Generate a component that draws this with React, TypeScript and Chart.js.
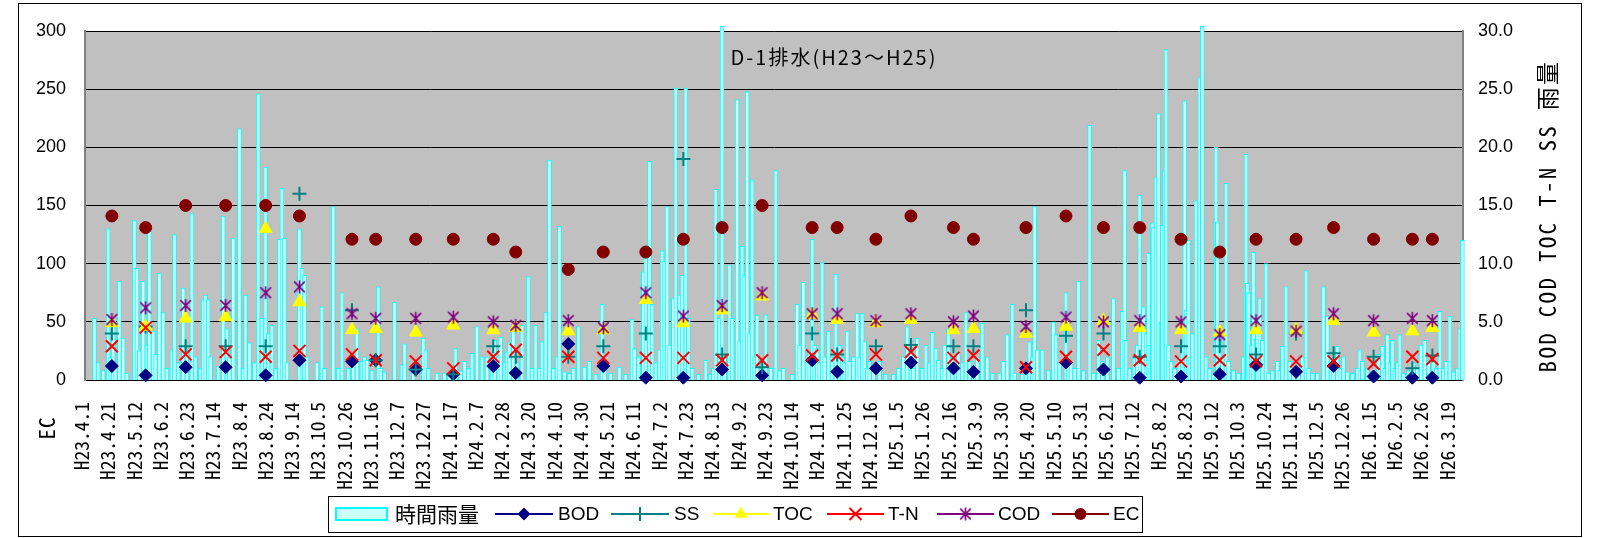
import React, { useEffect, useRef } from 'react';
import { Chart, registerables } from 'chart.js';

Chart.register(...registerables);

// Axis labels, one every TICK_STEP days
const TICK_LABELS = [
  'H23.4.1', 'H23.4.21', 'H23.5.12', 'H23.6.2', 'H23.6.23', 'H23.7.14', 'H23.8.4', 'H23.8.24',
  'H23.9.14', 'H23.10.5', 'H23.10.26', 'H23.11.16', 'H23.12.7', 'H23.12.27', 'H24.1.17', 'H24.2.7',
  'H24.2.28', 'H24.3.20', 'H24.4.10', 'H24.4.30', 'H24.5.21', 'H24.6.11', 'H24.7.2', 'H24.7.23',
  'H24.8.13', 'H24.9.2', 'H24.9.23', 'H24.10.14', 'H24.11.4', 'H24.11.25', 'H24.12.16', 'H25.1.5',
  'H25.1.26', 'H25.2.16', 'H25.3.9', 'H25.3.30', 'H25.4.20', 'H25.5.10', 'H25.5.31', 'H25.6.21',
  'H25.7.12', 'H25.8.2', 'H25.8.23', 'H25.9.12', 'H25.10.3', 'H25.10.24', 'H25.11.14', 'H25.12.5',
  'H25.12.26', 'H26.1.15', 'H26.2.5', 'H26.2.26', 'H26.3.19',
];
const TICK_STEP = 21;
const DAY_COUNT = 1102;

// Hourly rainfall (mm): day index and value of each rainy day
const RAIN_DAY = [
  7, 10, 14, 18, 20, 22, 24, 27, 30, 33, 39, 41, 43, 46, 49, 51, 54, 56, 59, 62, 65, 69, 71, 74, 78, 81, 85, 88,
  92, 94, 96, 98, 100, 106, 110, 113, 115, 118, 123, 126, 128, 131, 135, 138, 141, 144, 146, 149, 152, 155, 157,
  159, 161, 171, 173, 175, 177, 185, 189, 191, 198, 202, 205, 210, 214, 217,
  221, 223, 225, 229, 234, 236, 239, 247, 253, 255, 262, 270, 272, 274, 281, 287, 291, 296, 300, 303, 306, 309,
  313, 317, 321, 325, 327, 330, 332, 335, 337, 339, 342, 345, 349, 354, 357, 360, 363, 365, 368, 371, 374, 377,
  379, 383, 387, 390, 394, 399, 403, 408, 413, 415, 420, 427, 432, 437,
  439, 442, 446, 448, 451, 453, 456, 459, 461, 463, 465, 467, 470, 472, 475, 477, 480, 482, 485, 490, 496, 500,
  502, 504, 507, 509, 511, 515, 517, 521, 523, 525, 527, 529, 531, 533, 535, 537, 541, 544, 548, 552, 555, 558,
  565, 569, 571, 574, 577, 579, 581, 583, 585, 587, 589, 591, 594, 597, 600, 603, 605, 607, 609, 611, 614, 617,
  619, 621, 623, 625, 627, 630, 635, 640, 646, 650, 654, 657,
  660, 662, 665, 669, 672, 675, 677, 680, 682, 685, 687, 690, 693, 696, 698, 701, 704, 707, 710, 713, 717, 721,
  725, 731, 734, 737, 741, 743, 749, 752, 755, 757, 759, 761, 765, 770, 774, 776, 779, 784, 786, 788, 791, 794,
  798, 803, 806, 810, 813, 817, 822, 826, 829, 831, 832, 835, 839, 841, 843, 846, 848, 850, 851, 853, 854, 856,
  858, 860, 861, 863, 864, 866, 868, 871, 875, 877, 879,
  880, 882, 883, 885, 888, 891, 893, 896, 899, 902, 904, 905, 907, 909, 912, 914, 918, 922, 926, 928, 929, 930,
  932, 934, 936, 937, 939, 941, 944, 946, 949, 953, 955, 957, 960, 963, 966, 970, 973, 976, 978, 981, 985, 990,
  993, 996, 998, 1001, 1003, 1006, 1009, 1013, 1017, 1019, 1021, 1025, 1029, 1034, 1037, 1039, 1041, 1043, 1045,
  1047, 1049, 1051, 1054, 1058, 1062, 1065, 1068, 1071, 1074, 1078, 1080, 1083, 1086, 1088, 1091, 1094, 1097,
  1099, 1101,
];
const RAIN_MM = [
  5.3, 1.5, 0.8, 13.0, 2.0, 5.0, 1.2, 8.5, 3.6, 0.6, 13.7, 9.6, 2.5, 8.5, 3.0, 12.8, 4.2, 2.2, 9.2, 5.8, 1.0, 2.6,
  12.5, 1.5, 7.9, 2.5, 14.3, 2.0, 1.0, 6.9, 7.3, 6.9, 2.0, 1.2, 14.1, 4.4, 2.0, 12.2, 21.6, 1.0, 7.3, 3.2, 1.5,
  24.6, 5.3, 18.3, 4.0, 4.7, 1.0, 12.1, 16.5, 12.2, 1.5, 13.0, 9.6, 9.0, 2.0, 1.5, 6.3, 1.0, 14.9, 1.0, 7.5, 1.0,
  2.0, 4.4,
  1.6, 2.0, 1.7, 0.8, 8.0, 1.0, 0.7, 6.7, 1.3, 3.1, 0.8, 3.6, 2.6, 1.0, 0.6, 0.6, 0.5, 2.7, 0.8, 1.6, 1.0, 2.3,
  4.6, 2.0, 2.0, 1.5, 3.4, 2.0, 3.7, 1.5, 2.4, 3.2, 4.2, 1.5, 4.7, 8.9, 1.0, 4.7, 1.0, 3.3, 5.8, 18.9, 1.0, 2.0,
  13.2, 0.7, 0.6, 1.0, 4.6, 1.1, 1.6, 0.5, 6.5, 1.0, 0.6, 1.1, 0.5, 5.2,
  2.7, 2.0, 9.3, 10.5, 18.8, 6.5, 1.5, 2.6, 11.1, 10.2, 14.9, 3.0, 7.0, 25.1, 7.3, 9.0, 25.1, 5.3, 1.0, 0.5, 1.7,
  0.5, 1.0, 16.4, 5.3, 30.4, 2.0, 9.9, 5.3, 24.1, 3.3, 11.5, 9.0, 24.8, 4.0, 17.2, 2.0, 5.6, 1.6, 5.6, 1.0, 18.0,
  0.8, 1.0, 0.5, 6.5, 3.0, 8.4, 1.6, 2.5, 12.1, 3.0, 2.7, 1.5, 10.1, 2.0, 4.2, 2.0, 9.1, 3.0, 2.0, 1.5, 4.2, 1.6,
  2.0, 5.7, 2.0, 5.7, 3.3, 1.0, 1.6, 0.8, 1.6, 0.5, 0.5, 1.0, 2.0, 4.6,
  2.5, 1.0, 3.6, 1.0, 3.0, 1.5, 4.1, 2.7, 1.7, 1.0, 3.0, 4.4, 2.0, 1.0, 2.4, 1.5, 5.8, 1.6, 1.0, 2.0, 4.9, 2.0,
  0.6, 0.6, 1.6, 3.9, 6.5, 0.6, 0.5, 1.0, 3.3, 2.0, 14.9, 2.6, 2.6, 0.8, 5.0, 3.9, 1.5, 7.5, 2.0, 1.6, 1.0, 8.5,
  0.8, 21.9, 0.6, 3.4, 1.6, 2.0, 7.0, 1.0, 5.9, 18.0, 3.4, 1.0, 1.9, 3.0, 15.9, 6.3, 4.0, 10.9, 3.0, 13.5, 13.1,
  17.4, 22.9, 5.0, 13.3, 18.0, 28.4, 3.0, 1.6, 1.0, 2.0, 3.0, 24.0,
  6.0, 12.0, 2.0, 4.0, 15.4, 26.0, 30.4, 2.0, 1.0, 0.6, 20.0, 13.6, 4.5, 2.0, 16.9, 1.6, 0.8, 0.6, 2.0, 19.4, 8.3,
  7.5, 3.0, 11.0, 3.5, 4.5, 7.0, 3.4, 10.0, 0.6, 0.8, 1.6, 0.8, 2.9, 8.0, 1.6, 0.7, 0.5, 2.0, 9.4, 1.0, 0.6, 0.6,
  8.0, 5.5, 2.0, 1.5, 2.9, 1.0, 2.0, 0.7, 0.6, 1.0, 2.6, 1.6, 1.0, 0.5, 2.2, 2.9, 1.0, 3.9, 1.5, 3.4, 1.0, 1.5,
  3.9, 0.6, 0.8, 1.5, 1.0, 3.0, 3.4, 1.5, 1.6, 1.0, 5.9, 1.0, 1.6, 5.5, 0.7, 1.0, 4.4, 12.0,
];

// Water quality samples: day index of each sampling
const SAMPLE_DAY = [
  21, 48, 80, 112, 144, 171, 213, 232, 264, 294, 326, 344, 386, 414, 448, 478, 509, 541, 581, 601, 632, 660,
  694, 710, 752, 784, 814, 843, 876, 907, 936, 968, 998, 1030, 1061, 1077,
];
const BOD = [
  1.2, 0.4, 1.1, 1.1, 0.4, 1.7, 1.6, 1.7, 0.9, 0.5, 1.2, 0.6, 3.1, 1.2, 0.2, 0.2, 0.9, 0.4, 1.7, 0.7, 1.0, 1.5,
  1.0, 0.7, 1.0, 1.5, 0.9, 0.2, 0.3, 0.5, 1.3, 0.7, 1.2, 0.3, 0.2, 0.2,
];
const SS = [
  4.0, 4.6, 2.9, 2.9, 2.9, 16.0, 6.0, 1.7, 0.9, 0.5, 2.9, 2.0, 2.0, 2.9, 4.0, 19.0, 2.2, 1.1, 4.0, 2.2, 2.9, 3.0,
  2.9, 2.9, 6.0, 3.8, 4.0, 2.0, 2.9, 2.9, 2.2, 4.0, 2.3, 2.0, 1.0, 2.1,
];
const TOC = [
  4.9, 4.6, 5.3, 5.4, 13.0, 6.7, 4.3, 4.4, 4.1, 4.7, 4.3, 4.5, 4.2, 4.3, 6.9, 4.9, 6.0, 7.2, 5.6, 5.2, 4.9, 5.2,
  4.3, 4.4, 4.0, 4.6, 5.1, 4.5, 4.3, 4.1, 4.3, 4.3, 5.1, 4.1, 4.2, 4.5,
];
const TN = [
  2.9, 4.5, 2.2, 2.4, 2.0, 2.5, 2.2, 1.7, 1.6, 1.0, 2.0, 2.6, 2.0, 1.9, 1.9, 1.9, 1.7, 1.7, 2.1, 2.1, 2.2, 2.4,
  1.9, 2.1, 1.1, 2.0, 2.6, 1.7, 1.6, 1.7, 1.6, 1.6, 1.6, 1.4, 2.0, 1.8,
];
const COD = [
  5.2, 6.2, 6.4, 6.4, 7.5, 8.0, 5.7, 5.3, 5.3, 5.4, 5.0, 4.7, 5.1, 4.5, 7.5, 5.5, 6.4, 7.5, 5.7, 5.7, 5.1, 5.7,
  5.0, 5.5, 4.6, 5.4, 5.0, 5.1, 5.0, 3.9, 5.1, 4.2, 5.7, 5.1, 5.3, 5.1,
];
const EC = [
  141, 131, 150, 150, 150, 141, 121, 121, 121, 121, 121, 110, 95, 110, 110, 121, 131, 150, 131, 131, 121, 141,
  131, 121, 131, 141, 131, 131, 121, 110, 121, 121, 131, 121, 121, 121,
];

const TITLE = 'D-1排水(H23〜H25)';
const LEFT_TITLE = 'EC';
const RIGHT_TITLE = 'BOD COD TOC T-N SS 雨量';

const W = 1599;
const H = 538;
const PLOT = { left: 85, right: 1463, top: 31, bottom: 380 };

const MONO = '"Noto Sans Mono CJK JP", "DejaVu Sans Mono", monospace';
const SANS = '"Liberation Sans", Arial, "Noto Sans CJK JP", sans-serif';
const CJK = '"Noto Sans CJK JP", sans-serif';

const COLORS = {
  rainFill: '#CCFFFF',
  rainEdge: '#00FFFF',
  BOD: '#000080',
  SS: '#008080',
  TOC: '#FFFF00',
  TN: '#FF0000',
  COD: '#800080',
  EC: '#800000',
};

function spread(days: number[], values: number[]): (number | null)[] {
  const out: (number | null)[] = new Array(DAY_COUNT).fill(null);
  days.forEach((d, i) => {
    out[d] = values[i];
  });
  return out;
}

function makeAsterisk(size: number, color: string, lw: number): HTMLCanvasElement {
  const c = document.createElement('canvas');
  c.width = size;
  c.height = size;
  const g = c.getContext('2d')!;
  g.strokeStyle = color;
  g.lineWidth = lw;
  const m = size / 2;
  const r = size / 2 - 1;
  const d = r * 0.82;
  g.beginPath();
  g.moveTo(m, m - r);
  g.lineTo(m, m + r);
  g.moveTo(m - d, m - d);
  g.lineTo(m + d, m + d);
  g.moveTo(m + d, m - d);
  g.lineTo(m - d, m + d);
  g.stroke();
  return c;
}

function drawMarker(ctx: CanvasRenderingContext2D, kind: string, x: number, y: number, color: string, star?: HTMLCanvasElement) {
  ctx.save();
  ctx.fillStyle = color;
  ctx.strokeStyle = color;
  ctx.lineWidth = 2;
  ctx.beginPath();
  if (kind === 'diamond') {
    const r = 6.5;
    ctx.moveTo(x - r, y);
    ctx.lineTo(x, y - r);
    ctx.lineTo(x + r, y);
    ctx.lineTo(x, y + r);
    ctx.closePath();
    ctx.fill();
  } else if (kind === 'plus') {
    const r = 7;
    ctx.moveTo(x - r, y);
    ctx.lineTo(x + r, y);
    ctx.moveTo(x, y - r);
    ctx.lineTo(x, y + r);
    ctx.stroke();
  } else if (kind === 'triangle') {
    const r = 7.5;
    ctx.moveTo(x, y - r);
    ctx.lineTo(x + r * 0.866, y + r * 0.5);
    ctx.lineTo(x - r * 0.866, y + r * 0.5);
    ctx.closePath();
    ctx.fill();
  } else if (kind === 'x') {
    const r = 6;
    ctx.moveTo(x - r, y - r);
    ctx.lineTo(x + r, y + r);
    ctx.moveTo(x + r, y - r);
    ctx.lineTo(x - r, y + r);
    ctx.stroke();
  } else if (kind === 'circle') {
    ctx.arc(x, y, 6, 0, Math.PI * 2);
    ctx.fill();
  } else if (kind === 'star' && star) {
    ctx.drawImage(star, x - star.width / 2, y - star.height / 2);
  }
  ctx.restore();
}

export default function App() {
  const canvasRef = useRef<HTMLCanvasElement | null>(null);

  useEffect(() => {
    const canvas = canvasRef.current;
    if (!canvas) return;

    const star = makeAsterisk(15, COLORS.COD, 1.6);
    const categories = Array.from({ length: DAY_COUNT }, (_, i) =>
      i % TICK_STEP === 0 && TICK_LABELS[i / TICK_STEP] ? TICK_LABELS[i / TICK_STEP] : ''
    );

    const markerSet = (label: string, values: number[], color: string, style: any, radius: number, order: number, axis = 'y1', filled = true) => ({
      type: 'line' as const,
      label,
      data: spread(SAMPLE_DAY, values),
      yAxisID: axis,
      showLine: false,
      pointStyle: style,
      pointRadius: radius,
      pointHoverRadius: radius,
      pointBackgroundColor: filled ? color : 'rgba(0,0,0,0)',
      pointBorderColor: color,
      pointBorderWidth: filled ? 1 : 2,
      borderColor: color,
      backgroundColor: color,
      order,
      clip: false as const,
    });

    const plotBackground = {
      id: 'plotBackground',
      beforeDraw(chart: any) {
        const { ctx, chartArea } = chart;
        ctx.save();
        ctx.fillStyle = '#FFFFFF';
        ctx.fillRect(0, 0, W, H);
        ctx.fillStyle = '#C0C0C0';
        ctx.fillRect(chartArea.left, chartArea.top, chartArea.right - chartArea.left, chartArea.bottom - chartArea.top);
        ctx.restore();
      },
    };

    const decorations = {
      id: 'decorations',
      afterDraw(chart: any) {
        const { ctx } = chart;
        ctx.save();
        // outer frame
        ctx.strokeStyle = '#000000';
        ctx.lineWidth = 1;
        ctx.strokeRect(18.5, 3.5, 1563, 533);

        ctx.fillStyle = '#000000';
        ctx.textBaseline = 'middle';

        // chart title inside the plot
        ctx.font = `20px ${CJK}`;
        (ctx as any).letterSpacing = '2px';
        ctx.textAlign = 'center';
        ctx.fillText(TITLE, 834, 57);

        // left axis title (at the lower left)
        ctx.save();
        ctx.translate(47, 428);
        ctx.rotate(-Math.PI / 2);
        ctx.font = `21px ${MONO}`;
        (ctx as any).letterSpacing = '1px';
        ctx.textAlign = 'center';
        ctx.fillText(LEFT_TITLE, 0, 0);
        ctx.restore();

        // right axis title
        ctx.save();
        ctx.translate(1547, 216);
        ctx.rotate(-Math.PI / 2);
        ctx.font = `23px ${MONO}`;
        (ctx as any).letterSpacing = '2.3px';
        ctx.textAlign = 'center';
        ctx.fillText(RIGHT_TITLE, 0, 0);
        ctx.restore();

        // legend
        (ctx as any).letterSpacing = '0px';
        const ly = 514;
        ctx.strokeStyle = '#000000';
        ctx.lineWidth = 1;
        ctx.strokeRect(328.5, 496.5, 814, 36);

        ctx.fillStyle = COLORS.rainFill;
        ctx.fillRect(335, 507, 53, 14);
        ctx.strokeStyle = COLORS.rainEdge;
        ctx.lineWidth = 2;
        ctx.strokeRect(336, 508, 51, 12);

        ctx.fillStyle = '#000000';
        ctx.textAlign = 'left';
        ctx.font = `21px ${CJK}`;
        ctx.fillText('時間雨量', 395, ly);

        const items = [
          { name: 'BOD', color: COLORS.BOD, kind: 'diamond', x0: 495, x1: 553, tx: 558 },
          { name: 'SS', color: COLORS.SS, kind: 'plus', x0: 611, x1: 669, tx: 674 },
          { name: 'TOC', color: COLORS.TOC, kind: 'triangle', x0: 713, x1: 769, tx: 773 },
          { name: 'T-N', color: COLORS.TN, kind: 'x', x0: 827, x1: 884, tx: 888 },
          { name: 'COD', color: COLORS.COD, kind: 'star', x0: 937, x1: 994, tx: 998 },
          { name: 'EC', color: COLORS.EC, kind: 'circle', x0: 1052, x1: 1109, tx: 1113 },
        ];
        ctx.font = `19px ${SANS}`;
        items.forEach((it) => {
          ctx.strokeStyle = it.color;
          ctx.lineWidth = 2;
          ctx.beginPath();
          ctx.moveTo(it.x0, ly);
          ctx.lineTo(it.x1, ly);
          ctx.stroke();
          drawMarker(ctx, it.kind, (it.x0 + it.x1) / 2, ly, it.color, star);
          ctx.fillStyle = '#000000';
          ctx.fillText(it.name, it.tx, ly + 1);
        });
        ctx.restore();
      },
    };

    const chart = new Chart(canvas, {
      type: 'bar',
      data: {
        labels: categories,
        datasets: [
          markerSet('EC', EC, COLORS.EC, 'circle', 6, 1, 'y'),
          markerSet('COD', COD, COLORS.COD, star, 7, 2),
          markerSet('T-N', TN, COLORS.TN, 'crossRot', 8.5, 3, 'y1', false),
          markerSet('TOC', TOC, COLORS.TOC, 'triangle', 7.5, 4),
          markerSet('SS', SS, COLORS.SS, 'cross', 7, 5, 'y1', false),
          markerSet('BOD', BOD, COLORS.BOD, 'rectRot', 6.5, 6),
          {
            type: 'bar' as const,
            label: '時間雨量',
            data: spread(RAIN_DAY, RAIN_MM),
            yAxisID: 'y1',
            backgroundColor: COLORS.rainFill,
            borderColor: COLORS.rainEdge,
            borderWidth: 1,
            barThickness: 4,
            order: 7,
            clip: false as const,
          },
        ] as any,
      },
      options: {
        responsive: false,
        animation: false,
        devicePixelRatio: 1,
        events: [],
        layout: { padding: { top: PLOT.top, left: 0, right: 0, bottom: 0 } },
        plugins: {
          legend: { display: false },
          tooltip: { enabled: false },
          title: { display: false },
        },
        scales: {
          x: {
            type: 'category',
            offset: true,
            grid: { display: false, drawTicks: false },
            border: { display: true, color: '#000000', width: 1 },
            ticks: {
              autoSkip: false,
              minRotation: 90,
              maxRotation: 90,
              padding: 22,
              labelOffset: -4,
              color: '#000000',
              font: { family: MONO, size: 19.5 },
            },
            afterFit: (s: any) => {
              s.height = H - PLOT.bottom;
            },
          },
          y: {
            position: 'left',
            min: 0,
            max: 300,
            ticks: { stepSize: 50, padding: 19, color: '#000000', font: { family: SANS, size: 18 } },
            grid: { color: '#000000', lineWidth: 1, drawTicks: false },
            border: { display: true, color: '#808080', width: 2 },
            afterFit: (s: any) => {
              s.width = PLOT.left;
            },
          },
          y1: {
            position: 'right',
            min: 0,
            max: 30,
            ticks: {
              stepSize: 5,
              padding: 15,
              color: '#000000',
              font: { family: SANS, size: 18 },
              callback: (v: any) => Number(v).toFixed(1),
            },
            grid: { display: false, drawTicks: false },
            border: { display: true, color: '#808080', width: 2 },
            afterFit: (s: any) => {
              s.width = W - PLOT.right;
            },
          },
        },
      } as any,
      plugins: [plotBackground, decorations],
    });

    return () => {
      chart.destroy();
    };
  }, []);

  return (
    <div style={{ position: 'absolute', left: 0, top: 0, width: W, height: H, background: '#FFFFFF' }}>
      <canvas ref={canvasRef} width={W} height={H} style={{ display: 'block', width: W, height: H }} />
    </div>
  );
}
